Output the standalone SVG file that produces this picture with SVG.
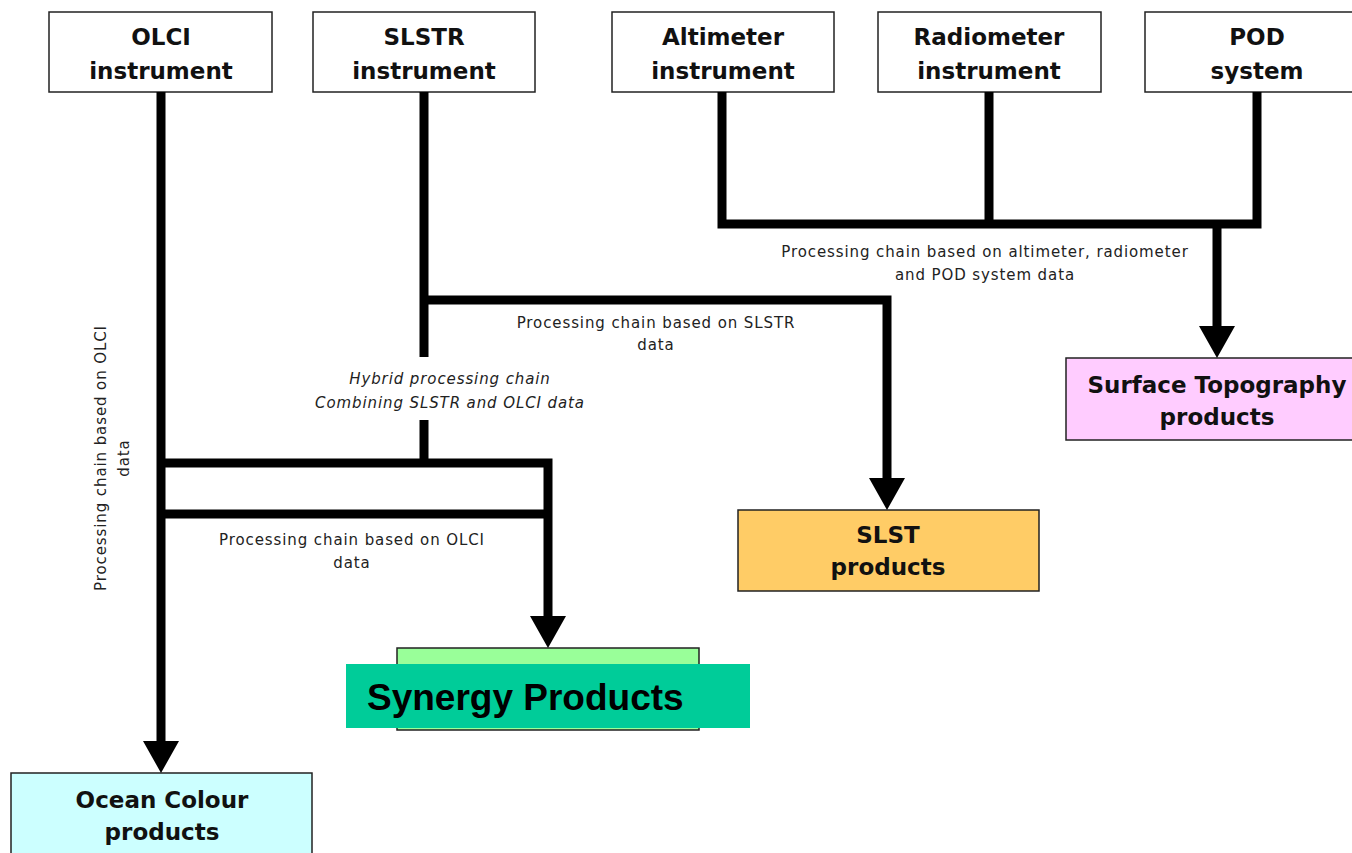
<svg xmlns="http://www.w3.org/2000/svg" width="1352" height="853" viewBox="0 0 1352 853">
<style>
.box{stroke:#222;stroke-width:1.5}
.src{fill:#fff}
.t{font-family:"DejaVu Sans","Liberation Sans",sans-serif;font-weight:bold;font-size:23px;fill:#111;text-anchor:middle}
.l{font-family:"DejaVu Sans","Liberation Sans",sans-serif;font-size:15px;letter-spacing:0.9px;fill:#222;text-anchor:middle}
.i{font-style:italic}
.c{fill:none;stroke:#000;stroke-width:9;stroke-linejoin:miter}
.ah{fill:#000}
</style>
<rect width="1352" height="853" fill="#fff"/>
<g id="olci"><rect class="box src" x="49" y="12" width="223" height="80"/><text class="t" x="161" y="45">OLCI</text><text class="t" x="161" y="79">instrument</text></g>
<g id="slstr"><rect class="box src" x="313" y="12" width="222" height="80"/><text class="t" x="424" y="45">SLSTR</text><text class="t" x="424" y="79">instrument</text></g>
<g id="altimeter"><rect class="box src" x="612" y="12" width="222" height="80"/><text class="t" x="723" y="45">Altimeter</text><text class="t" x="723" y="79">instrument</text></g>
<g id="radiometer"><rect class="box src" x="878" y="12" width="223" height="80"/><text class="t" x="989" y="45">Radiometer</text><text class="t" x="989" y="79">instrument</text></g>
<g id="pod"><rect class="box src" x="1145" y="12" width="224" height="80"/><text class="t" x="1257" y="45">POD</text><text class="t" x="1257" y="79">system</text></g>
<g id="surface-topography"><rect class="box" fill="#ffccff" x="1066" y="358" width="300" height="82"/><text class="t" x="1217" y="393">Surface Topography</text><text class="t" x="1217" y="425">products</text></g>
<g id="slst"><rect class="box" fill="#ffcc66" x="738" y="510" width="301" height="81"/><text class="t" x="888" y="543">SLST</text><text class="t" x="888" y="575">products</text></g>
<g id="synergy"><rect class="box" fill="#99ff99" x="397" y="648" width="302" height="82"/><rect fill="#00cc99" x="346" y="664" width="404" height="64"/><text x="367" y="710" font-family="Liberation Sans,Arial,sans-serif" font-weight="bold" font-size="37" fill="#000">Synergy Products</text></g>
<g id="ocean-colour"><rect class="box" fill="#ccffff" x="11" y="773" width="301" height="90"/><text class="t" x="162" y="808">Ocean Colour</text><text class="t" x="162" y="840">products</text></g>
<g id="connectors">
<path class="c" d="M161 92 V744"/>
<polygon class="ah" points="143,741 179,741 161,773"/>
<path class="c" d="M161 463 H548 V620 M161 514 H548"/>
<polygon class="ah" points="530,616 566,616 548,648"/>
<path class="c" d="M424 92 V357 M424 420 V463"/>
<path class="c" d="M424 300 H887 V482"/>
<polygon class="ah" points="869,478 905,478 887,510"/>
<path class="c" d="M722 92 V224 H1257 V92 M989 92 V224"/>
<path class="c" d="M1217 224 V330"/>
<polygon class="ah" points="1199,326 1235,326 1217,358"/>
<text class="l" x="985" y="257">Processing chain based on altimeter, radiometer</text>
<text class="l" x="985" y="280">and POD system data</text>
<text class="l" x="656" y="328">Processing chain based on SLSTR</text>
<text class="l" x="656" y="350">data</text>
<text class="l i" x="450" y="384">Hybrid processing chain</text>
<text class="l i" x="450" y="408">Combining SLSTR and OLCI data</text>
<text class="l" x="352" y="545">Processing chain based on OLCI</text>
<text class="l" x="352" y="568">data</text>
<text class="l" transform="translate(106,458) rotate(-90)">Processing chain based on OLCI</text>
<text class="l" transform="translate(129,458) rotate(-90)">data</text>
</g>
</svg>
